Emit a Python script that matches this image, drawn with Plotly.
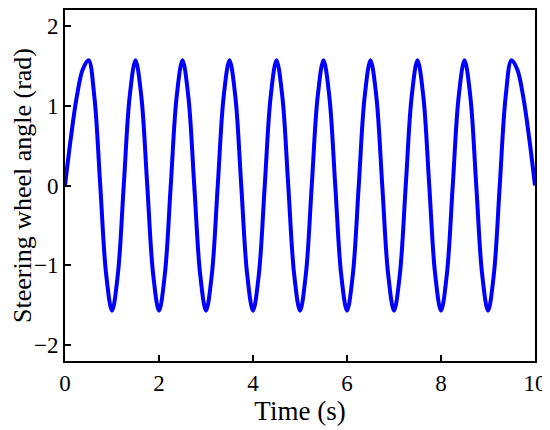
import plotly.graph_objs as go

time_s = [
    0, 0.125, 0.25, 0.375,
    0.5, 0.625, 0.75, 0.875, 1.0, 1.125, 1.25, 1.375,
    1.5, 1.625, 1.75, 1.875, 2.0, 2.125, 2.25, 2.375,
    2.5, 2.625, 2.75, 2.875, 3.0, 3.125, 3.25, 3.375,
    3.5, 3.625, 3.75, 3.875, 4.0, 4.125, 4.25, 4.375,
    4.5, 4.625, 4.75, 4.875, 5.0, 5.125, 5.25, 5.375,
    5.5, 5.625, 5.75, 5.875, 6.0, 6.125, 6.25, 6.375,
    6.5, 6.625, 6.75, 6.875, 7.0, 7.125, 7.25, 7.375,
    7.5, 7.625, 7.75, 7.875, 8.0, 8.125, 8.25, 8.375,
    8.5, 8.625, 8.75, 8.875, 9.0, 9.125, 9.25, 9.375,
    9.5, 9.625, 9.75, 9.875, 10.0,
]
angle_rad = [
    0, 0.60, 1.11, 1.45,
    1.57, 1.11, 0, -1.11, -1.57, -1.11, 0, 1.11,
    1.57, 1.11, 0, -1.11, -1.57, -1.11, 0, 1.11,
    1.57, 1.11, 0, -1.11, -1.57, -1.11, 0, 1.11,
    1.57, 1.11, 0, -1.11, -1.57, -1.11, 0, 1.11,
    1.57, 1.11, 0, -1.11, -1.57, -1.11, 0, 1.11,
    1.57, 1.11, 0, -1.11, -1.57, -1.11, 0, 1.11,
    1.57, 1.11, 0, -1.11, -1.57, -1.11, 0, 1.11,
    1.57, 1.11, 0, -1.11, -1.57, -1.11, 0, 1.11,
    1.57, 1.11, 0, -1.11, -1.57, -1.11, 0, 1.11,
    1.57, 1.45, 1.11, 0.60, 0,
]

x_ticks = [0, 2, 4, 6, 8, 10]
y_ticks = [-2, -1, 0, 1, 2]

trace = go.Scatter(
    x=time_s,
    y=angle_rad,
    mode="lines",
    line=dict(color="#0000ff", width=4, shape="spline", smoothing=1.0),
    showlegend=False
)

axis_style = dict(
    showline=True,
    linecolor="black",
    linewidth=2,
    mirror=True,
    ticks="inside",
    ticklen=6,
    tickwidth=2,
    tickcolor="black",
    showgrid=False,
    zeroline=False,
    automargin=False,
    tickfont=dict(size=23, color="black"),
)

# page body adds 8px offset, margins compensate for it
layout = go.Layout(
    width=550,
    height=430,
    margin=dict(l=57, r=23, t=2, b=77),
    paper_bgcolor="white",
    plot_bgcolor="white",
    font=dict(family="Liberation Serif, Times New Roman, serif", color="black"),
    xaxis=dict(
        range=[0, 10],
        tickvals=x_ticks,
        title=dict(text="Time (s)", font=dict(size=27), standoff=4),
        **axis_style
    ),
    yaxis=dict(
        range=[-2.2, 2.2],
        tickvals=y_ticks,
        title=dict(text="Steering wheel angle (rad)", font=dict(size=26), standoff=0),
        **axis_style
    ),
)

fig = go.Figure(data=[trace], layout=layout)
fig.write_html("out.html")
